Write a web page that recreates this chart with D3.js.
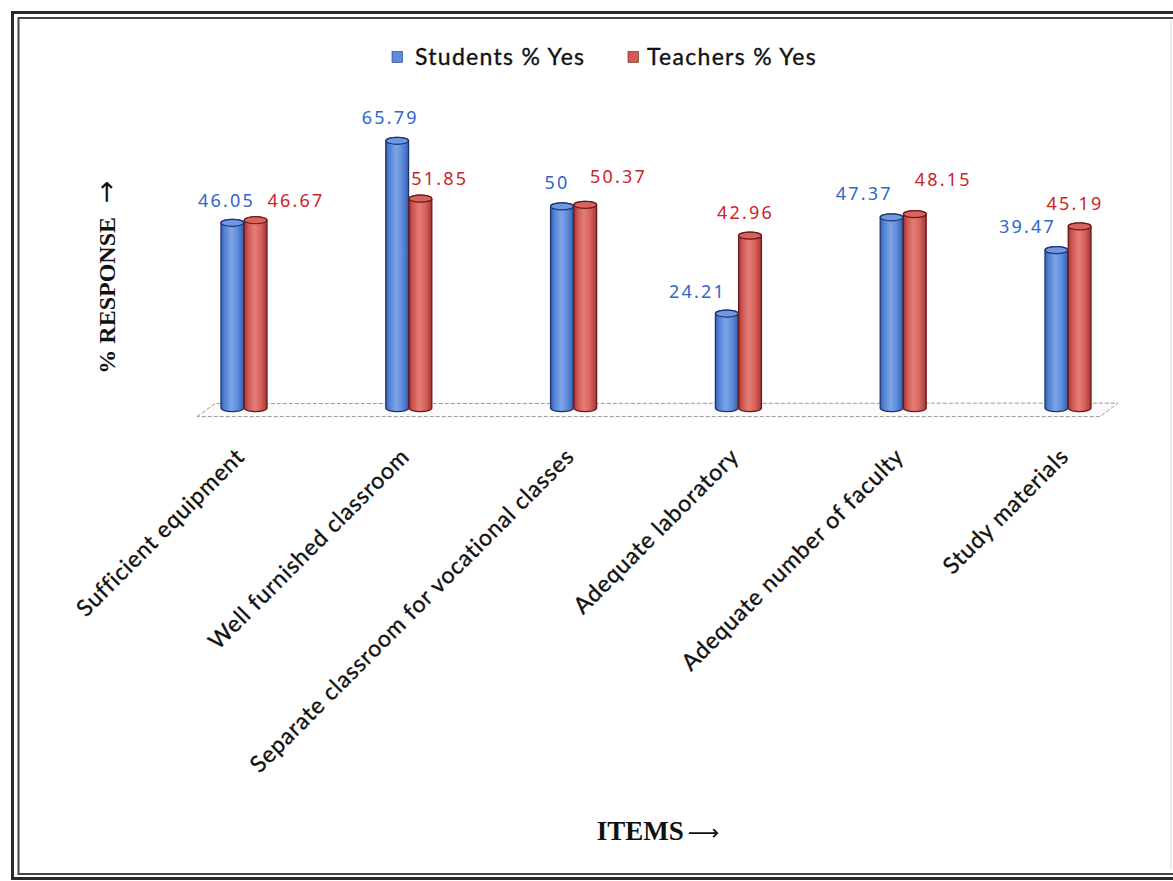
<!DOCTYPE html>
<html><head><meta charset="utf-8">
<script src="https://cdn.jsdelivr.net/npm/d3@7"></script>
<style>body{margin:0;background:#fff}</style>
</head><body>
<svg id="chart" width="1173" height="881"></svg>
<script>
// ---- data ----
const categories = [
  "Sufficient equipment",
  "Well furnished classroom",
  "Separate classroom for vocational classes",
  "Adequate laboratory",
  "Adequate number of faculty",
  "Study materials"
];
const seriesNames = ["Students % Yes", "Teachers % Yes"];
const studentsYes = [46.05, 65.79, 50, 24.21, 47.37, 39.47];
const teachersYes = [46.67, 51.85, 50.37, 42.96, 48.15, 45.19];
const valueText = {
  students: ["46.05", "65.79", "50", "24.21", "47.37", "39.47"],
  teachers: ["46.67", "51.85", "50.37", "42.96", "48.15", "45.19"]
};

// hand-placed data label nudges (dx from group centre, dy from bar top)
const studentLabelNudge = [[-17.5,-12],[-18.5,-13],[-16.5,-14],[-41,-12],[-39,-14],[-40.5,-13.5]];
const teacherLabelNudge = [[52,-10],[31,-10],[45,-18],[7,-13],[40,-24.5],[7,-13]];

const svg = d3.select("#chart");

// ---- frame (double rule) ----
const frame = svg.append("g");
frame.append("rect").attr("x", 12.5).attr("y", 12.5).attr("width", 1180).attr("height", 866)
  .attr("fill", "none").attr("stroke", "#2a2a2a").attr("stroke-width", 3);
frame.append("rect").attr("x", 18.5).attr("y", 18).attr("width", 1170).attr("height", 856)
  .attr("fill", "none").attr("stroke", "#444").attr("stroke-width", 2);
frame.append("line").attr("x1", 1171).attr("x2", 1171).attr("y1", 20).attr("y2", 870)
  .attr("stroke", "#d8d8d8").attr("stroke-width", 1);

// ---- scales ----
const x0 = d3.scalePoint().domain(categories).range([244, 1068]);
const x1 = d3.scaleBand().domain(seriesNames).range([-23, 23]).paddingInner(0.02);
const y = d3.scaleLinear().domain([0, 70]).range([410.6, 410.6 - 70 * 4.154]);

// ---- gradients ----
const defs = svg.append("defs");
function cylGrad(id, stops) {
  const g = defs.append("linearGradient").attr("id", id)
    .attr("x1", "0%").attr("x2", "100%").attr("y1", "0%").attr("y2", "0%");
  stops.forEach(([o, c]) => g.append("stop").attr("offset", o).attr("stop-color", c));
}
cylGrad("gBlue", [["0%","#3a62b4"],["18%","#5585d6"],["45%","#7ea4e6"],["72%","#5f8ddb"],["100%","#3760b0"]]);
cylGrad("gRed",  [["0%","#a83634"],["18%","#cf5955"],["45%","#e57d77"],["72%","#d6625d"],["100%","#a53533"]]);

const palette = {
  "Students % Yes": {grad: "url(#gBlue)", top: "#6e98df", line: "#1f3370", text: "#2f66cc", key: "#5b8bd9"},
  "Teachers % Yes": {grad: "url(#gRed)",  top: "#d9645f", line: "#6a1a1a", text: "#cc2229", key: "#d45a56"}
};

// ---- floor ----
const fl = x0(categories[0]) - 47, fr = x0(categories[categories.length - 1]) + 50;
const floorY = y(0);
svg.append("path")
  .attr("d", `M${fl},${floorY + 6} L${fl + 18},${floorY - 7} L${fr},${floorY - 7.5} L${fr - 18},${floorY + 6} Z`)
  .attr("fill", "#fbfbfb").attr("stroke", "#9a9a9a").attr("stroke-width", 1)
  .attr("stroke-dasharray", "4,2");

// ---- bars as cylinders ----
const rows = categories.map((c, i) => ({
  cat: c, i,
  vals: [
    {s: seriesNames[0], v: studentsYes[i], t: valueText.students[i], n: studentLabelNudge[i]},
    {s: seriesNames[1], v: teachersYes[i], t: valueText.teachers[i], n: teacherLabelNudge[i]}
  ]
}));

const ry = 3.5;
const groups = svg.append("g").selectAll("g").data(rows).join("g")
  .attr("transform", d => `translate(${x0(d.cat)},0)`);

const bars = groups.selectAll("g.bar").data(d => d.vals).join("g").attr("class", "bar");
bars.append("path")
  .attr("d", d => {
    const xl = x1(d.s), w = x1.bandwidth(), xr = xl + w, top = y(d.v), bot = y(0) + 1;
    return `M${xl},${top + ry} L${xl},${bot - ry} A${w / 2},${ry} 0 0 0 ${xr},${bot - ry} ` +
           `L${xr},${top + ry} A${w / 2},${ry} 0 0 0 ${xl},${top + ry} Z`;
  })
  .attr("fill", d => palette[d.s].grad)
  .attr("stroke", d => palette[d.s].line).attr("stroke-width", 1.3);
bars.append("ellipse")
  .attr("cx", d => x1(d.s) + x1.bandwidth() / 2)
  .attr("cy", d => y(d.v) + ry)
  .attr("rx", x1.bandwidth() / 2).attr("ry", ry)
  .attr("fill", d => palette[d.s].top)
  .attr("stroke", d => palette[d.s].line).attr("stroke-width", 1.2);

// ---- value labels ----
groups.selectAll("text.val").data(d => d.vals).join("text").attr("class", "val")
  .attr("x", d => d.n[0]).attr("y", d => y(d.v) + d.n[1])
  .attr("text-anchor", "middle")
  .attr("font-family", "'Noto Sans', sans-serif").attr("font-size", 18)
  .attr("letter-spacing", 2.2)
  .attr("fill", d => palette[d.s].text)
  .text(d => d.t);

// ---- category labels ----
svg.append("g").selectAll("text").data(categories).join("text")
  .attr("transform", d => `translate(${x0(d) + 2},${458}) rotate(-45)`)
  .attr("text-anchor", "end")
  .attr("font-family", "Lato, 'Open Sans', sans-serif").attr("font-size", 23)
  .attr("letter-spacing", 0.8)
  .attr("fill", "#111").attr("stroke", "#111").attr("stroke-width", 0.35)
  .text(d => d);

// ---- legend ----
const legend = svg.append("g");
const legendX = [392, 628];
seriesNames.forEach((s, i) => {
  legend.append("rect").attr("x", legendX[i]).attr("y", 51.5).attr("width", 10.5).attr("height", 11)
    .attr("fill", palette[s].key).attr("stroke", palette[s].line).attr("stroke-width", 0.6);
  legend.append("text").attr("x", legendX[i] + 23 - (i ? 4 : 0)).attr("y", 65)
    .attr("font-family", "Lato, 'Open Sans', sans-serif").attr("font-size", 23)
    .attr("letter-spacing", 1.3)
    .attr("fill", "#111").attr("stroke", "#111").attr("stroke-width", 0.35)
    .text(s);
});

// ---- axis titles ----
const yTitle = svg.append("text")
  .attr("transform", "translate(115,277) rotate(-90)")
  .attr("text-anchor", "middle")
  .attr("font-family", "'Liberation Serif', 'Times New Roman', serif")
  .attr("font-weight", "bold").attr("font-size", 24).attr("fill", "#111");
yTitle.append("tspan").text("% RESPONSE ");
yTitle.append("tspan").attr("font-family", "'DejaVu Sans', sans-serif").attr("font-weight", "normal")
  .attr("font-size", 27).attr("dx", 8).text("\u2192");

const xTitle = svg.append("text")
  .attr("x", 658).attr("y", 840)
  .attr("text-anchor", "middle")
  .attr("font-family", "'Liberation Serif', 'Times New Roman', serif")
  .attr("font-weight", "bold").attr("font-size", 27).attr("fill", "#111");
xTitle.append("tspan").text("ITEMS");
xTitle.append("tspan").attr("font-family", "'DejaVu Sans', sans-serif").attr("font-weight", "normal")
  .attr("font-size", 22).attr("dx", 4).text("\u27F6");
</script>
</body></html>
